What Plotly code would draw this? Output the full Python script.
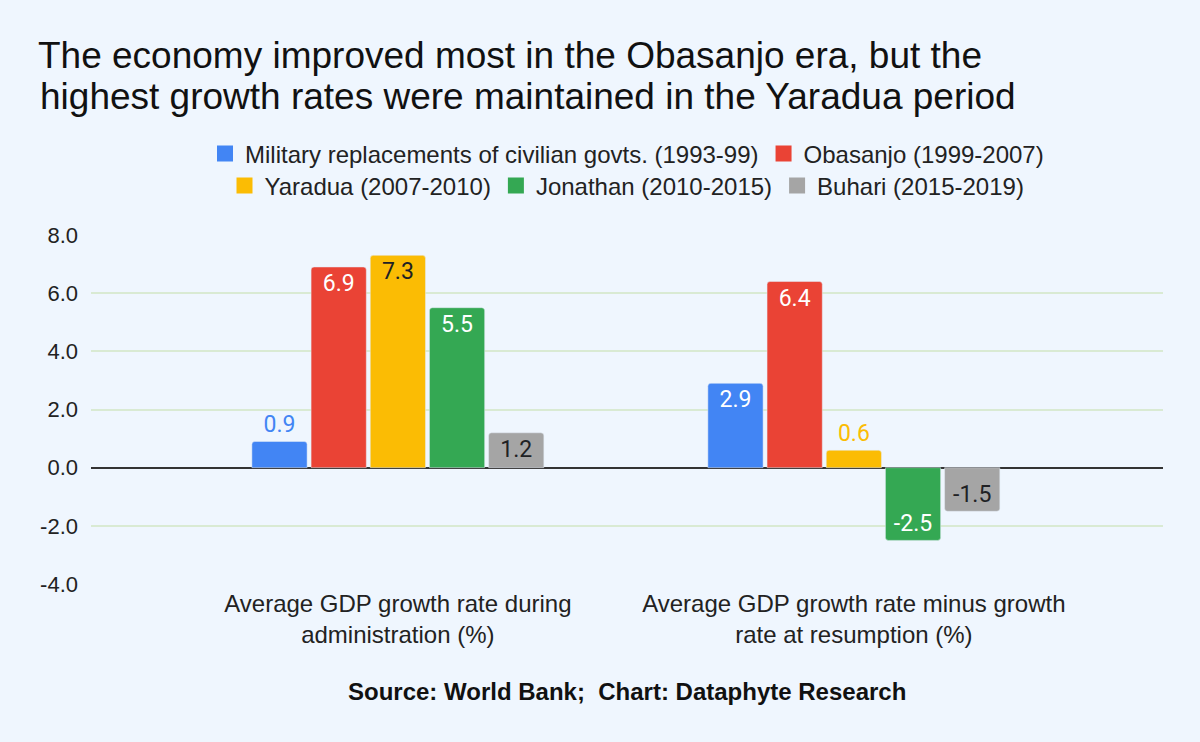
import plotly.graph_objects as go

categories = ["Average GDP growth rate during<br>administration (%)",
              "Average GDP growth rate minus growth<br>rate at resumption (%)"]
series_names = ["Military replacements of civilian govts. (1993-99)",
                "Obasanjo (1999-2007)",
                "Yaradua (2007-2010)",
                "Jonathan (2010-2015)",
                "Buhari (2015-2019)"]
military = [0.9, 2.9]
obasanjo = [6.9, 6.4]
yaradua = [7.3, 0.6]
jonathan = [5.5, -2.5]
buhari = [1.2, -1.5]
y_ticks = [-4, -2, 0, 2, 4, 6, 8]

title_lines = ["The economy improved most in the Obasanjo era, but the",
               "highest growth rates were maintained in the Yaradua period"]
source_text = "Source: World Bank;  Chart: Dataphyte Research"

colors = ["#4285F4", "#EA4335", "#FBBC04", "#34A853", "#A5A5A5"]
values = [military, obasanjo, yaradua, jonathan, buhari]
positions = [["outside", "inside"], ["inside", "inside"], ["inside", "outside"],
             ["inside", "inside"], ["inside", "inside"]]
text_colors = [["#4285F4", "white"], ["white", "white"], ["#202124", "#FBBC04"],
               ["white", "white"], ["#202124", "#202124"]]

BG = "#EFF6FE"
FONT = "Liberation Sans, Arial"
PLOT_TOP, PLOT_H, PLOT_L, PLOT_W = 235, 349, 91, 1072

x = list(range(len(categories)))
fig = go.Figure()
for i, (name, vals) in enumerate(zip(series_names, values)):
    fig.add_trace(go.Bar(
        x=x, y=vals, name=name,
        marker=dict(color=colors[i], cornerradius=3),
        text=[f"{v:.1f}" for v in vals],
        textposition=positions[i],
        insidetextanchor="end",
        constraintext="none",
        cliponaxis=False,
        textfont=dict(family="Roboto", size=23, color=text_colors[i]),
        showlegend=False,
        hoverinfo="skip",
    ))
# legend entries
for i, name in enumerate(series_names):
    fig.add_trace(go.Scatter(
        x=[None], y=[None], mode="markers", name=name,
        marker=dict(symbol="square", size=22, color=colors[i]),
        legend="legend" if i < 2 else "legend2",
    ))

def py(pix):
    return 1 + (PLOT_TOP - pix) / PLOT_H

def px(pix):
    return (pix - PLOT_L) / PLOT_W

legend_common = dict(orientation="h", x=0.5, xanchor="center", yanchor="middle",
                     font=dict(family=FONT, size=24, color="#222222"),
                     bgcolor="rgba(0,0,0,0)", itemclick=False, itemdoubleclick=False,
                     itemwidth=30, tracegroupgap=0)

fig.update_layout(
    width=1200, height=742,
    paper_bgcolor=BG, plot_bgcolor=BG,
    margin=dict(l=PLOT_L, r=1200 - PLOT_L - PLOT_W, t=PLOT_TOP, b=742 - PLOT_TOP - PLOT_H),
    barmode="group", bargap=0.351, bargroupgap=0.067,
    title=dict(
        text=title_lines[0],
        x=38 / 1200, xanchor="left", y=1 - 55 / 742, yanchor="middle",
        font=dict(family=FONT, size=37, color="#111111"),
    ),
    legend=dict(y=py(154), **legend_common),
    legend2=dict(y=py(186), **legend_common),
    xaxis=dict(
        tickvals=x, ticktext=categories,
        range=[-0.673, 1.678],
        showgrid=False, zeroline=False, showline=False, ticks="",
        tickfont=dict(family=FONT, size=24, color="#222222"),
        ticklabelstandoff=3,
    ),
    yaxis=dict(
        range=[-4, 8], tickvals=y_ticks, ticktext=[f"{v:.1f}" for v in y_ticks],
        gridcolor="#D9EAD3", gridwidth=1.5,
        zeroline=True, zerolinecolor="#333333", zerolinewidth=1.5,
        showline=False, ticks="",
        tickfont=dict(family=FONT, size=22, color="#222222"),
        ticklabelstandoff=12,
    ),
    annotations=[
        dict(text=title_lines[1], xref="paper", yref="paper",
             x=px(38), xanchor="left", y=py(97), yanchor="middle", showarrow=False,
             font=dict(family=FONT, size=37, color="#111111")),
        dict(text=f"<b>{source_text}</b>", xref="paper", yref="paper",
             x=px(627), xanchor="center", y=py(691), yanchor="middle", showarrow=False,
             font=dict(family=FONT, size=24, color="#111111")),
    ],
)

fig.write_html("out.html",
               config={"displayModeBar": False},
               post_script="document.body.style.margin='0';document.body.style.background='%s';" % BG)
